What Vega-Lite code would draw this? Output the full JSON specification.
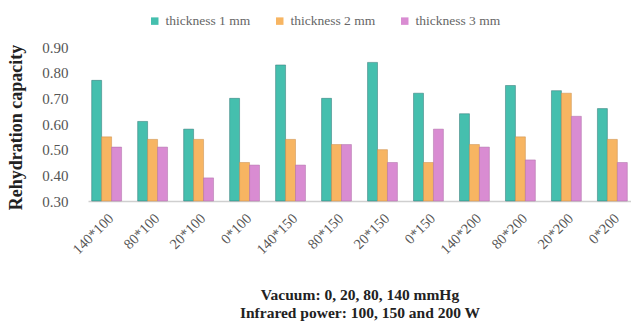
{
  "$schema": "https://vega.github.io/schema/vega-lite/v6.json",
  "autosize": "none",
  "padding": {"left": 88, "top": 47, "right": 0, "bottom": 121},
  "width": 543,
  "height": 154,
  "background": "white",
  "data": {
    "values": [
      {"condition": "140*100", "thickness": "thickness 1 mm", "value": 0.77},
      {"condition": "140*100", "thickness": "thickness 2 mm", "value": 0.55},
      {"condition": "140*100", "thickness": "thickness 3 mm", "value": 0.51},
      {"condition": "80*100", "thickness": "thickness 1 mm", "value": 0.61},
      {"condition": "80*100", "thickness": "thickness 2 mm", "value": 0.54},
      {"condition": "80*100", "thickness": "thickness 3 mm", "value": 0.51},
      {"condition": "20*100", "thickness": "thickness 1 mm", "value": 0.58},
      {"condition": "20*100", "thickness": "thickness 2 mm", "value": 0.54},
      {"condition": "20*100", "thickness": "thickness 3 mm", "value": 0.39},
      {"condition": "0*100", "thickness": "thickness 1 mm", "value": 0.70},
      {"condition": "0*100", "thickness": "thickness 2 mm", "value": 0.45},
      {"condition": "0*100", "thickness": "thickness 3 mm", "value": 0.44},
      {"condition": "140*150", "thickness": "thickness 1 mm", "value": 0.83},
      {"condition": "140*150", "thickness": "thickness 2 mm", "value": 0.54},
      {"condition": "140*150", "thickness": "thickness 3 mm", "value": 0.44},
      {"condition": "80*150", "thickness": "thickness 1 mm", "value": 0.70},
      {"condition": "80*150", "thickness": "thickness 2 mm", "value": 0.52},
      {"condition": "80*150", "thickness": "thickness 3 mm", "value": 0.52},
      {"condition": "20*150", "thickness": "thickness 1 mm", "value": 0.84},
      {"condition": "20*150", "thickness": "thickness 2 mm", "value": 0.50},
      {"condition": "20*150", "thickness": "thickness 3 mm", "value": 0.45},
      {"condition": "0*150", "thickness": "thickness 1 mm", "value": 0.72},
      {"condition": "0*150", "thickness": "thickness 2 mm", "value": 0.45},
      {"condition": "0*150", "thickness": "thickness 3 mm", "value": 0.58},
      {"condition": "140*200", "thickness": "thickness 1 mm", "value": 0.64},
      {"condition": "140*200", "thickness": "thickness 2 mm", "value": 0.52},
      {"condition": "140*200", "thickness": "thickness 3 mm", "value": 0.51},
      {"condition": "80*200", "thickness": "thickness 1 mm", "value": 0.75},
      {"condition": "80*200", "thickness": "thickness 2 mm", "value": 0.55},
      {"condition": "80*200", "thickness": "thickness 3 mm", "value": 0.46},
      {"condition": "20*200", "thickness": "thickness 1 mm", "value": 0.73},
      {"condition": "20*200", "thickness": "thickness 2 mm", "value": 0.72},
      {"condition": "20*200", "thickness": "thickness 3 mm", "value": 0.63},
      {"condition": "0*200", "thickness": "thickness 1 mm", "value": 0.66},
      {"condition": "0*200", "thickness": "thickness 2 mm", "value": 0.54},
      {"condition": "0*200", "thickness": "thickness 3 mm", "value": 0.45}
    ]
  },
  "mark": {"type": "bar", "strokeWidth": 0.8, "strokeOpacity": 0.6},
  "encoding": {
    "x": {
      "field": "condition",
      "type": "nominal",
      "sort": null,
      "scale": {"paddingInner": 0.35, "paddingOuter": 0.08},
      "axis": {
        "title": ["Vacuum: 0, 20, 80, 140 mmHg", "Infrared power: 100, 150 and 200 W"],
        "titleFont": "Liberation Serif",
        "titleFontSize": 15.5,
        "titleFontWeight": "bold",
        "titleColor": "#222",
        "titleLineHeight": 18,
        "titleBaseline": "top",
        "titleY": 86,
        "labelAngle": -45,
        "labelFont": "Liberation Serif",
        "labelFontSize": 14.5,
        "labelColor": "#555",
        "labelPadding": 10,
        "ticks": false,
        "domainColor": "#cfcfcf",
        "domainWidth": 1.5
      }
    },
    "xOffset": {"field": "thickness", "type": "nominal"},
    "y": {
      "field": "value",
      "type": "quantitative",
      "scale": {"domain": [0.3, 0.9], "zero": false, "nice": false},
      "axis": {
        "title": "Rehydration capacity",
        "titleFont": "Liberation Serif",
        "titleFontSize": 18,
        "titleFontWeight": "bold",
        "titleColor": "#222",
        "titleX": -63,
        "titleY": 80,
        "values": [0.3, 0.4, 0.5, 0.6, 0.7, 0.8, 0.9],
        "format": ".2f",
        "labelFont": "Liberation Serif",
        "labelFontSize": 15,
        "labelColor": "#555",
        "labelPadding": 20,
        "ticks": false,
        "domain": false,
        "grid": false
      }
    },
    "y2": {"datum": 0.3},
    "color": {
      "field": "thickness",
      "type": "nominal",
      "scale": {
        "domain": ["thickness 1 mm", "thickness 2 mm", "thickness 3 mm"],
        "range": ["#45bfae", "#f7b562", "#d98cd2"]
      },
      "legend": {
        "title": null,
        "orient": "none",
        "direction": "horizontal",
        "legendX": 60,
        "legendY": -33,
        "symbolType": "square",
        "symbolSize": 56,
        "symbolStrokeWidth": 0,
        "labelFont": "Liberation Serif",
        "labelFontSize": 13.5,
        "labelColor": "#666",
        "columnPadding": 22,
        "labelOffset": 4
      }
    },
    "stroke": {
      "field": "thickness",
      "type": "nominal",
      "scale": {
        "domain": ["thickness 1 mm", "thickness 2 mm", "thickness 3 mm"],
        "range": ["#2b6f70", "#c98a45", "#a86aa3"]
      },
      "legend": null
    }
  },
  "config": {
    "view": {"stroke": null},
    "legend": {"labelFont": "Liberation Serif"}
  }
}
